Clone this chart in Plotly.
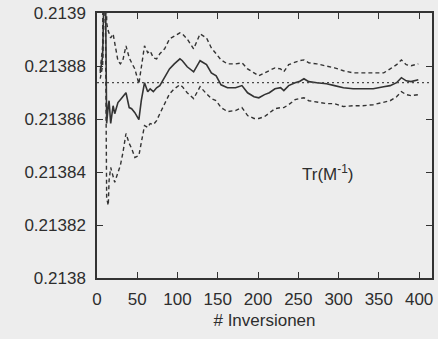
import plotly.graph_objects as go

# Number of inversions
n = [4, 7, 10, 12, 14, 15, 17, 20, 22, 26, 29, 32, 36, 40, 43, 47, 52, 55, 59, 63,
     66, 70, 74, 78, 84, 90, 96, 103, 106, 112, 120, 128, 136, 142, 148, 154, 162, 172, 180, 187,
     195, 201, 208, 214, 221, 228, 232, 238, 246, 251, 257, 263, 273, 285, 295, 306, 318, 330, 343, 356,
     364, 372, 378, 384, 390, 399]

# Mean estimate of Tr(M^-1)
mean_vals = [0.2138774, 0.2138838, 0.2139271, 0.2138583, 0.2138650, 0.2138669, 0.2138583, 0.2138650, 0.2138620, 0.2138662,
             0.2138673, 0.2138684, 0.2138699, 0.2138643, 0.2138639, 0.2138624, 0.2138598, 0.2138669, 0.2138737, 0.2138703,
             0.2138714, 0.2138703, 0.2138718, 0.2138726, 0.2138756, 0.2138789, 0.2138808, 0.2138827, 0.2138820, 0.2138797,
             0.2138778, 0.2138820, 0.2138805, 0.2138774, 0.2138763, 0.2138729, 0.2138718, 0.2138718, 0.2138726, 0.2138699,
             0.2138684, 0.2138680, 0.2138692, 0.2138699, 0.2138714, 0.2138718, 0.2138707, 0.2138726, 0.2138737, 0.2138741,
             0.2138752, 0.2138741, 0.2138737, 0.2138733, 0.2138726, 0.2138718, 0.2138714, 0.2138714, 0.2138714, 0.2138722,
             0.2138726, 0.2138737, 0.2138756, 0.2138744, 0.2138741, 0.2138748]

# Upper confidence bound
upper_vals = [0.2138782, 0.2138876, 0.2140549, 0.2138962, 0.2138932, 0.2138921, 0.2138906, 0.2138921, 0.2138883, 0.2138820,
              0.2138808, 0.2138820, 0.2138876, 0.2138831, 0.2138812, 0.2138789, 0.2138733, 0.2138797, 0.2138876, 0.2138850,
              0.2138857, 0.2138831, 0.2138827, 0.2138846, 0.2138865, 0.2138902, 0.2138914, 0.2138925, 0.2138921, 0.2138902,
              0.2138865, 0.2138921, 0.2138906, 0.2138868, 0.2138846, 0.2138823, 0.2138808, 0.2138808, 0.2138812, 0.2138789,
              0.2138774, 0.2138763, 0.2138774, 0.2138782, 0.2138793, 0.2138789, 0.2138778, 0.2138805, 0.2138816, 0.2138820,
              0.2138823, 0.2138812, 0.2138808, 0.2138801, 0.2138793, 0.2138782, 0.2138774, 0.2138774, 0.2138774, 0.2138774,
              0.2138789, 0.2138805, 0.2138823, 0.2138805, 0.2138801, 0.2138808]

# Lower confidence bound
lower_vals = [0.2138752, 0.2138801, 0.2139195, 0.2138301, 0.2138274, 0.2138368, 0.2138417, 0.2138376, 0.2138361, 0.2138398,
              0.2138425, 0.2138470, 0.2138545, 0.2138508, 0.2138489, 0.2138455, 0.2138462, 0.2138511, 0.2138575, 0.2138568,
              0.2138583, 0.2138579, 0.2138594, 0.2138620, 0.2138658, 0.2138695, 0.2138714, 0.2138729, 0.2138722, 0.2138699,
              0.2138677, 0.2138722, 0.2138695, 0.2138677, 0.2138669, 0.2138643, 0.2138628, 0.2138632, 0.2138643, 0.2138613,
              0.2138602, 0.2138602, 0.2138609, 0.2138624, 0.2138639, 0.2138643, 0.2138643, 0.2138654, 0.2138673, 0.2138677,
              0.2138680, 0.2138669, 0.2138665, 0.2138658, 0.2138658, 0.2138647, 0.2138650, 0.2138650, 0.2138654, 0.2138662,
              0.2138669, 0.2138684, 0.2138703, 0.2138692, 0.2138688, 0.2138692]

ref_value = 0.2138737  # exact value (dotted line)

x_ticks = [0, 50, 100, 150, 200, 250, 300, 350, 400]
y_ticks = [0.2138, 0.21382, 0.21384, 0.21386, 0.21388, 0.2139]
y_tick_labels = ["0.2138", "0.21382", "0.21384", "0.21386", "0.21388", "0.2139"]

x_range = [0, 416]
y_range = [0.2138, 0.2139]

line_col = "#333333"
bg = "#ededed"
font = dict(family="Liberation Sans, Arial, sans-serif", size=17, color="#2e2e2e")

fig = go.Figure()
fig.add_trace(go.Scatter(x=n, y=upper_vals, mode="lines",
                         line=dict(color=line_col, width=1.4, dash="4px,3px"), showlegend=False))
fig.add_trace(go.Scatter(x=n, y=lower_vals, mode="lines",
                         line=dict(color=line_col, width=1.4, dash="4px,3px"), showlegend=False))
fig.add_trace(go.Scatter(x=n, y=mean_vals, mode="lines",
                         line=dict(color=line_col, width=1.6), showlegend=False))
fig.add_hline(y=ref_value, line=dict(color="#4a4a4a", width=1.2, dash="2px,3px"))

fig.add_annotation(x=287, y=0.2138395, text="Tr(M<sup>-1</sup>)", showarrow=False,
                   font=dict(family=font["family"], size=17, color="#2e2e2e"))

axis_common = dict(showline=True, linecolor="#333333", linewidth=1.5, mirror="allticks",
                   ticks="inside", ticklen=6, tickwidth=1.2, tickcolor="#333333",
                   showgrid=False, zeroline=False, tickfont=font)

fig.update_xaxes(range=x_range, tickvals=x_ticks, ticklabelstandoff=5,
                 title=dict(text="# Inversionen", font=font, standoff=6), **axis_common)
fig.update_yaxes(range=y_range, tickvals=y_ticks, ticktext=y_tick_labels,
                 ticklabelstandoff=6, **axis_common)

fig.update_layout(width=438, height=339, margin=dict(l=97, r=4, t=12, b=61),
                  paper_bgcolor=bg, plot_bgcolor=bg, font=font)

fig.write_html("out.html")
